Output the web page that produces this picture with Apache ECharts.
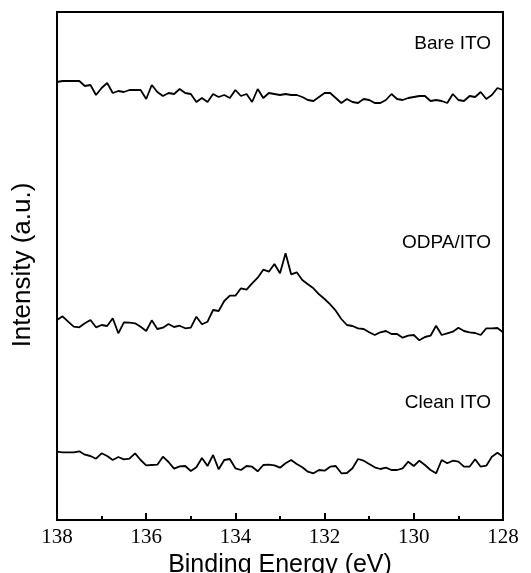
<!DOCTYPE html>
<html>
<head>
<meta charset="utf-8">
<script src="https://cdn.jsdelivr.net/npm/echarts@6/dist/echarts.min.js"></script>
<style>
html, body { margin: 0; padding: 0; background: #fff; }
#chart { width: 531px; height: 573px; }
</style>
</head>
<body>
<div id="chart"></div>
<script>
// binding energy grid: 138 -> 128 eV, 0.125 eV step (81 points)
const startEnergy = 138;
const stepEnergy = 0.125;
const xTicks = [128, 130, 132, 134, 136, 138];

const bareITO = [438, 439, 439, 439, 439, 434, 435, 425, 432, 437, 427, 429, 428, 430, 430, 430, 421, 435, 428, 424,
	427, 426, 431, 427, 426, 418, 422, 418, 426, 423, 425, 422, 430, 424, 426, 418, 431, 422, 427, 426,
	425, 426, 425, 425, 423, 420, 419, 423, 427, 427, 422, 417, 421, 418, 417, 421, 420, 417, 417, 420,
	426, 421, 420, 422, 423, 424, 424, 419, 420, 419, 417, 426, 420, 419, 424, 423, 428, 421, 425, 432, 430];

const odpaITO = [200, 203.7, 198.3, 193.3, 192.7, 196.7, 200, 192.7, 195, 194, 201.7, 186.7, 197.7, 197.3, 196.7, 193.3, 189, 199.7, 191, 192.3,
	196, 193, 194.3, 191.7, 192.3, 203.3, 195.7, 198.3, 210, 209, 219, 224.3, 224.3, 231.7, 230.3, 236.7, 242.3, 250.3, 248.3, 256,
	246.7, 266.7, 245.7, 247.7, 240, 235.7, 231.7, 225.7, 221, 215.7, 209.3, 201, 195, 194, 191.7, 191, 187.7, 185, 187.7, 189,
	186, 186, 182.3, 184.3, 185, 179.7, 183, 184.3, 194.3, 185, 186.7, 188.3, 192.3, 189, 187.7, 187, 185, 191.7, 191.7, 192, 187.7];

const cleanITO = [68.3, 67.7, 67.7, 67.7, 68.7, 65.3, 64, 61.3, 66.7, 64, 60, 63, 60.7, 61.3, 66.7, 60, 54.7, 55, 55.3, 63.3,
	58, 51.3, 53.7, 54, 49, 52.7, 62, 54, 65, 50.7, 60, 61, 51.7, 50, 54, 53.3, 48.7, 55, 55.3, 54.7,
	52.3, 56.7, 60, 56, 52.7, 48.3, 46.7, 50, 49.3, 53.3, 54, 46.7, 47, 51.7, 61, 59.3, 56, 52.7, 51, 52.3,
	50, 50, 51.7, 58.3, 54, 59.3, 55, 50, 46.7, 60, 56.7, 59.3, 58.3, 53.3, 53.3, 60.7, 53.3, 54.3, 63.3, 67.3, 63.3];

const seriesNames = ["Bare ITO", "ODPA/ITO", "Clean ITO"];

function toPairs(values) {
	return values.map((v, i) => [startEnergy - i * stepEnergy, v]);
}

function seriesLabel(text, y) {
	return {
		type: "text",
		x: 491,
		y: y,
		style: {
			text: text,
			fontSize: 19,
			fontFamily: "Liberation Sans, Arial, sans-serif",
			fill: "#000",
			textAlign: "right",
			textVerticalAlign: "middle",
		},
	};
}

var myChart = echarts.init(document.getElementById("chart"));
myChart.setOption({
	animation: false,
	grid: {
		left: 57,
		right: 28,
		top: 12,
		bottom: 53,
		outerBoundsMode: "none",
		containLabel: false,
		show: true,
		borderColor: "#000",
		borderWidth: 2,
	},
	xAxis: {
		type: "value",
		min: 128,
		max: 138,
		interval: 2,
		inverse: true,
		name: "Binding Energy (eV)",
		nameLocation: "middle",
		nameGap: 24,
		nameTextStyle: {
			color: "#000",
			fontSize: 25,
			fontFamily: "Liberation Sans, Arial, sans-serif",
		},
		axisLine: {
			show: true,
			lineStyle: { color: "#000", width: 2 },
		},
		axisTick: {
			show: true,
			inside: true,
			length: 7,
			lineStyle: { color: "#000", width: 2 },
		},
		minorTick: {
			show: true,
			splitNumber: 2,
			length: 4,
			lineStyle: { color: "#000", width: 2 },
		},
		splitLine: { show: false },
		axisLabel: {
			color: "#000",
			fontSize: 21,
			fontFamily: "Liberation Serif, Times New Roman, serif",
			margin: 7,
		},
	},
	yAxis: {
		type: "value",
		min: 0,
		max: 508,
		axisLine: { show: true, lineStyle: { color: "#000", width: 2 } },
		axisTick: { show: false },
		axisLabel: { show: false },
		splitLine: { show: false },
	},
	graphic: [
		{
			type: "text",
			x: 23,
			y: 265,
			rotation: Math.PI / 2,
			style: {
				text: "Intensity (a.u.)",
				fontSize: 26,
				fontFamily: "Liberation Sans, Arial, sans-serif",
				fill: "#000",
				textAlign: "center",
				textVerticalAlign: "middle",
			},
		},
		seriesLabel(seriesNames[0], 44),
		seriesLabel(seriesNames[1], 243),
		seriesLabel(seriesNames[2], 403),
	],
	series: [bareITO, odpaITO, cleanITO].map((d, k) => ({
		name: seriesNames[k],
		type: "line",
		data: toPairs(d),
		showSymbol: false,
		symbol: "none",
		lineStyle: { color: "#000", width: 1.8 },
	})),
});
</script>
</body>
</html>
